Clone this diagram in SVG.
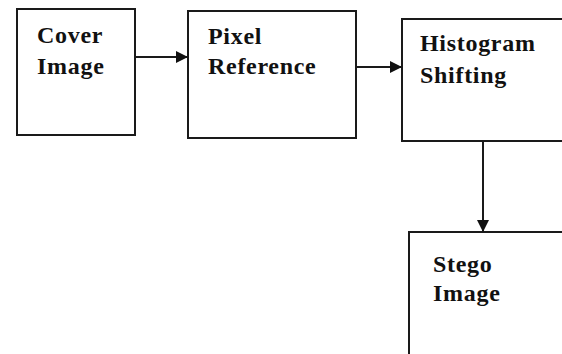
<svg xmlns="http://www.w3.org/2000/svg" width="562" height="354" viewBox="0 0 562 354">
<style>
.box{fill:#fff;stroke:#1a1a1a;stroke-width:2}
.lbl{font-family:"Liberation Serif","Times New Roman",serif;font-weight:bold;font-size:24px;letter-spacing:0.7px;fill:#111}
.con{stroke:#1a1a1a;stroke-width:2;fill:none}
</style>
<defs>
<marker id="ah" viewBox="0 0 12 12" refX="12" refY="6" markerWidth="12" markerHeight="12" markerUnits="userSpaceOnUse" orient="auto">
<path d="M0,0 L12,6 L0,12 Z" fill="#111"/>
</marker>
</defs>
<rect width="562" height="354" fill="#fff"/>
<g id="cover">
<rect class="box" x="17" y="9" width="118" height="126"/>
<text class="lbl" x="37" y="43">Cover</text>
<text class="lbl" x="37" y="74">Image</text>
</g>
<g id="pixel">
<rect class="box" x="188" y="11" width="168" height="127"/>
<text class="lbl" x="208" y="44">Pixel</text>
<text class="lbl" x="208" y="74">Reference</text>
</g>
<g id="histogram">
<rect class="box" x="402" y="19" width="200" height="122"/>
<text class="lbl" x="420" y="51">Histogram</text>
<text class="lbl" x="420" y="83">Shifting</text>
</g>
<g id="stego">
<rect class="box" x="409" y="232" width="200" height="150"/>
<text class="lbl" x="433" y="272">Stego</text>
<text class="lbl" x="433" y="301">Image</text>
</g>
<g id="connectors">
<line class="con" x1="135" y1="57" x2="188" y2="57" marker-end="url(#ah)"/>
<line class="con" x1="356" y1="67" x2="402" y2="67" marker-end="url(#ah)"/>
<line class="con" x1="483" y1="141" x2="483" y2="232" marker-end="url(#ah)"/>
</g>
</svg>
